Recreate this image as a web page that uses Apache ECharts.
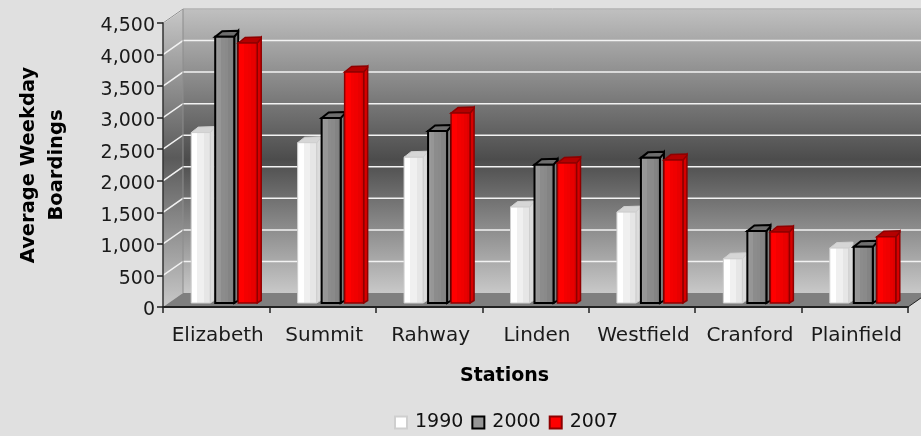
<!DOCTYPE html>
<html><head><meta charset="utf-8">
<style>html,body{margin:0;padding:0;background:#e0e0e0}#c{width:921px;height:436px}</style>
<script src="https://cdn.jsdelivr.net/npm/echarts@6/dist/echarts.min.js"></script>
</head><body><div id="c"></div>
<script>
const stations = ['Elizabeth','Summit','Rahway','Linden','Westfield','Cranford','Plainfield'];
const v1990 = [2700,2540,2310,1520,1440,700,870];
const v2000 = [4220,2930,2725,2190,2300,1140,890];
const v2007 = [4120,3660,3010,2220,2265,1125,1050];
const yTicks = [0,500,1000,1500,2000,2500,3000,3500,4000,4500];

const chart = echarts.init(document.getElementById('c'));
const FONT = 'DejaVu Sans';
const DX = 20, DY = 14;

function wall(params, api){
  const cs = params.coordSys, L = cs.x, R = cs.x + cs.width, T = cs.y, B = cs.y + cs.height;
  const grad = (c)=>new echarts.graphic.LinearGradient(0,0,0,1,c);
  const stops = [{offset:0,color:'#c0c0c0'},{offset:.53,color:'#4c4c4c'},{offset:1,color:'#c8c8c8'}];
  const kids = [];
  kids.push({type:'polygon',shape:{points:[[L+DX,T-DY],[R+DX,T-DY],[R+DX,B-DY],[L+DX,B-DY]]},style:{fill:grad(stops)}});
  kids.push({type:'polygon',shape:{points:[[L,T],[L+DX,T-DY],[L+DX,B-DY],[L,B]]},style:{fill:grad([{offset:0,color:'#c8c8c8'},{offset:.5,color:'#5a5a5a'},{offset:1,color:'#c8c8c8'}])}});
  kids.push({type:'polygon',shape:{points:[[L,B],[L+DX,B-DY],[R+DX,B-DY],[R,B]]},style:{fill:'#7f7f7f'}});
  yTicks.forEach(t=>{
    if(t===0) return;
    const y = api.coord([0,t])[1];
    kids.push({type:'polyline',shape:{points:[[L,y],[L+DX,y-DY],[R+DX,y-DY]]},style:{fill:null,stroke:'#f2f2f2',lineWidth:1.5}});
  });
  kids.push({type:'polyline',shape:{points:[[R+DX,T-DY],[L+DX,T-DY],[L+DX,B-DY]]},style:{fill:null,stroke:'#8c8c8c',lineWidth:1}});
  kids.push({type:'line',shape:{x1:L,y1:T,x2:L+DX,y2:T-DY},style:{stroke:'#8c8c8c',lineWidth:1}});
  kids.push({type:'line',shape:{x1:R,y1:B,x2:R+DX,y2:B-DY},style:{stroke:'#222',lineWidth:1}});
  return {type:'group',children:kids,silent:true};
}

const palettes = {
  w:{face:['#ffffff','#ffffff','#f0f0f0','#f0f0f0','#e6e6e6','#e6e6e6'],side:'#dcdcdc',top:'#d6d6d6',stroke:'#cfcfcf',lw:1},
  g:{face:['#9a9a9a','#969696','#8c8c8c','#8a8a8a','#848484','#808080'],side:'#7d7d7d',top:'#6e6e6e',stroke:'#000000',lw:2},
  r:{face:['#ff0000','#ff0000','#f40000','#f00000','#e80000','#e00000'],side:'#d80000',top:'#b40000',stroke:'#8e0000',lw:1.5}
};

function barRenderer(offset, pal){
  const W = 19, SX = 4, SY = 5.5, LIFT = 4;
  return function(params, api){
    const i = api.value(0), v = api.value(1);
    const top = api.coord([i,v]), base = api.coord([i,0]);
    const x = top[0] + offset, yT = top[1] - LIFT, yB = base[1] - LIFT;
    const n = pal.face.length, stops = [];
    pal.face.forEach((c,k)=>{stops.push({offset:k/n,color:c});stops.push({offset:(k+1)/n,color:c});});
    const lw = pal.lw;
    return {type:'group',children:[
      {type:'polygon',shape:{points:[[x+W,yT],[x+W+SX,yT-SY],[x+W+SX,yB-2.5],[x+W,yB]]},
        style:{fill:pal.side,stroke:pal.stroke,lineWidth:lw}},
      {type:'polygon',shape:{points:[[x,yT],[x+7,yT-SY],[x+W+SX,yT-SY-.5],[x+W+SX,yT-SY+1],[x+W,yT]]},
        style:{fill:pal.top,stroke:pal.stroke,lineWidth:lw}},
      {type:'rect',shape:{x:x,y:yT,width:W,height:yB-yT},
        style:{fill:new echarts.graphic.LinearGradient(0,0,1,0,stops),stroke:pal.stroke,lineWidth:lw}}
    ]};
  };
}

function barSeries(name, data, offset, pal, color){
  return {type:'custom',name:name,coordinateSystem:'cartesian2d',clip:false,z:6,
    renderItem:barRenderer(offset,pal),
    data:data.map((v,i)=>[i,v]),encode:{x:0,y:1},
    itemStyle:{color:color,borderColor:pal.stroke,borderWidth:2}};
}

chart.setOption({
  animation:false,
  backgroundColor:'#e0e0e0',
  textStyle:{fontFamily:FONT},
  grid:{left:163,right:13,top:23,bottom:129,containLabel:false,outerBoundsMode:'none'},
  legend:{data:['1990','2000','2007'],top:413,left:394,icon:'rect',itemWidth:12,itemHeight:12,itemGap:8,padding:0,
    textStyle:{fontFamily:FONT,fontSize:19,color:'#111',padding:[0,0,0,3]}},
  xAxis:{type:'category',data:stations,boundaryGap:true,z:5,
    name:'Stations',nameLocation:'middle',nameGap:60,
    nameTextStyle:{fontFamily:FONT,fontWeight:'bold',fontSize:19,color:'#000',padding:[0,62,0,0]},
    axisLine:{lineStyle:{color:'#222',width:2}},
    axisTick:{show:true,alignWithLabel:false,length:6,lineStyle:{color:'#222',width:1.5}},
    axisLabel:{fontFamily:FONT,fontSize:20,color:'#1a1a1a',margin:19,interval:0,padding:[0,0,0,3]}},
  yAxis:{type:'value',min:0,max:4500,interval:500,z:5,
    name:'Average Weekday\nBoardings',nameLocation:'middle',nameGap:92,nameRotate:90,
    nameTextStyle:{fontFamily:FONT,fontWeight:'bold',fontSize:19.5,color:'#000',lineHeight:28},
    axisLine:{show:true,lineStyle:{color:'#333',width:1.5}},
    axisTick:{show:true,length:6,lineStyle:{color:'#222',width:1.5}},
    splitLine:{show:false},
    axisLabel:{margin:8,
      rich:{n:{fontFamily:FONT,fontSize:19,color:'#1a1a1a',padding:[7,0,0,0]}},
      formatter:v=>'{n|'+v.toLocaleString('en-US')+'}'}},
  series:[
    {type:'custom',name:'walls',coordinateSystem:'cartesian2d',clip:false,z:1,silent:true,renderItem:wall,data:[[0,0]],encode:{x:0,y:1}},
    barSeries('1990',v1990,-25,palettes.w,'#ffffff'),
    barSeries('2000',v2000,-1,palettes.g,'#969696'),
    barSeries('2007',v2007,22,palettes.r,'#ff0000')
  ]
});
</script></body></html>
